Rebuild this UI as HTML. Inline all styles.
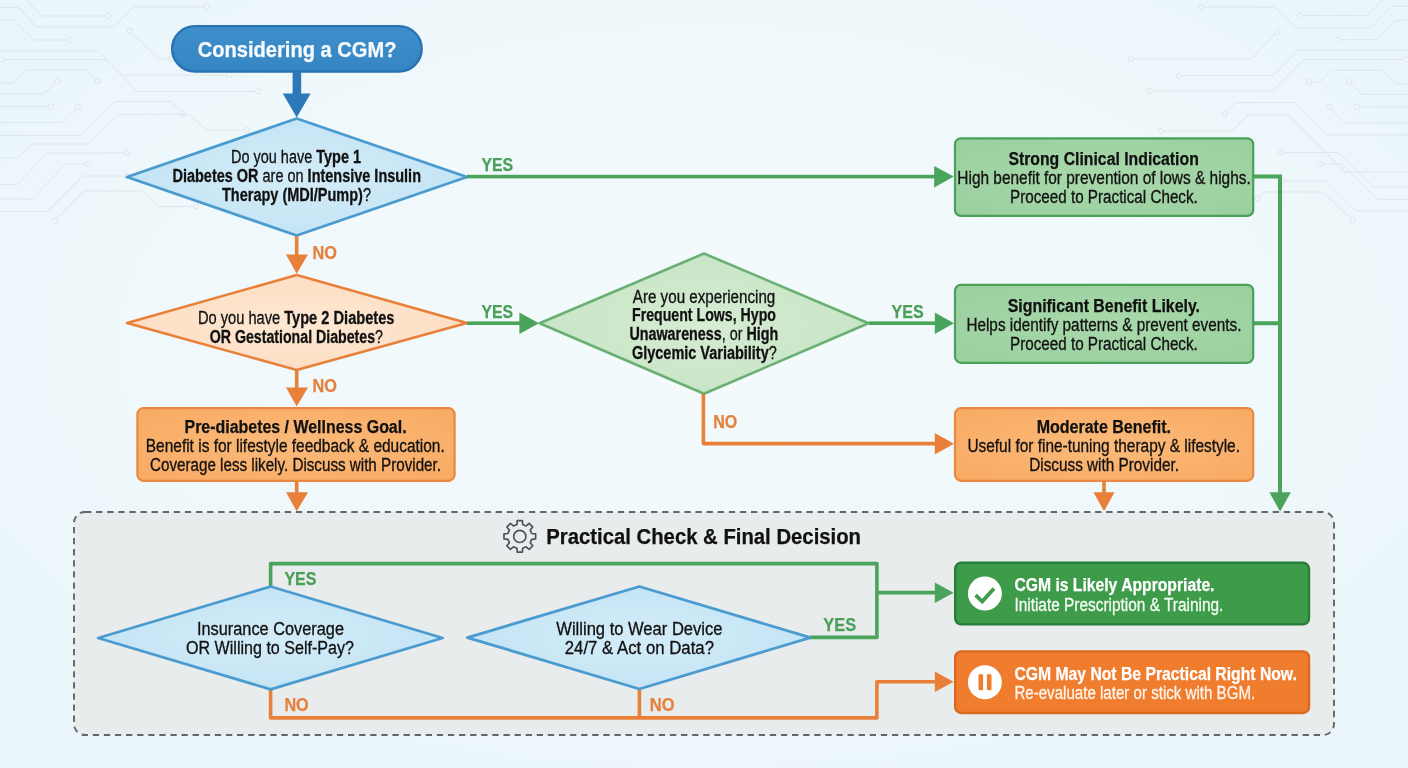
<!DOCTYPE html>
<html lang="en"><head><meta charset="utf-8"><title>Considering a CGM? Decision flowchart</title>
<style>
html,body{margin:0;padding:0;background:#eef6fa;}
body{width:1408px;height:768px;overflow:hidden;font-family:"Liberation Sans",sans-serif;}
svg{display:block;}
text{white-space:pre;}
</style></head><body>
<svg width="1408" height="768" viewBox="0 0 1408 768" font-family="'Liberation Sans', sans-serif">
<defs>
<radialGradient id="bg" cx="50%" cy="45%" r="75%"><stop offset="0" stop-color="#f4fafc"/><stop offset="0.55" stop-color="#eff8fb"/><stop offset="1" stop-color="#e8f5fa"/></radialGradient>
<radialGradient id="gb" cx="50%" cy="50%" r="60%"><stop offset="0" stop-color="#d4ecf8"/><stop offset="1" stop-color="#c1e3f4"/></radialGradient>
<radialGradient id="go" cx="50%" cy="50%" r="60%"><stop offset="0" stop-color="#fee8d4"/><stop offset="1" stop-color="#fcdcc0"/></radialGradient>
<radialGradient id="gg" cx="50%" cy="50%" r="60%"><stop offset="0" stop-color="#d6ecd3"/><stop offset="1" stop-color="#c6e3c3"/></radialGradient>
<linearGradient id="gp" x1="0" y1="0" x2="0" y2="1"><stop offset="0" stop-color="#3f8fcc"/><stop offset="1" stop-color="#3685c3"/></linearGradient>
<radialGradient id="bo" cx="50%" cy="50%" r="70%"><stop offset="0" stop-color="#fbba7a"/><stop offset="1" stop-color="#f8aa62"/></radialGradient>
<radialGradient id="bgn" cx="50%" cy="50%" r="70%"><stop offset="0" stop-color="#a8d9ab"/><stop offset="1" stop-color="#9acf9e"/></radialGradient>
</defs>
<rect width="1408" height="768" fill="url(#bg)"/>
<g fill="none" stroke="#dde6ea" stroke-width="1">
<path d="M27 0 L42 16 L108 16"/>
<circle cx="108" cy="16" r="2.6" fill="#eff7fb"/>
<path d="M0 7.5 L18.6 7.5 L37 27 L113 27 L134 6.8 L206.5 6.8"/>
<circle cx="206.5" cy="6.8" r="2.6" fill="#eff7fb"/>
<path d="M0 20 L13.5 20 L34 40 L69.4 40"/>
<circle cx="69.4" cy="40" r="2.6" fill="#eff7fb"/>
<path d="M130 31 L159 59 L171 59"/>
<circle cx="130" cy="31" r="2.6" fill="#eff7fb"/>
<circle cx="171" cy="59" r="2.6" fill="#eff7fb"/>
<path d="M0 51 L98 51 L122 75 L229.5 75"/>
<circle cx="229.5" cy="75" r="2.6" fill="#eff7fb"/>
<path d="M1.7 59.6 L106.6 59.6 L137 91.4 L258 91.4"/>
<circle cx="1.7" cy="59.6" r="2.6" fill="#eff7fb"/>
<circle cx="258" cy="91.4" r="2.6" fill="#eff7fb"/>
<path d="M0 83 L13.5 83 L27 70 L86 70 L98 81"/>
<circle cx="98" cy="81" r="2.6" fill="#eff7fb"/>
<path d="M0 94 L44 94 L57.5 81"/>
<circle cx="57.5" cy="81" r="2.6" fill="#eff7fb"/>
<path d="M0 106.6 L50.8 106.6"/>
<circle cx="50.8" cy="106.6" r="2.6" fill="#eff7fb"/>
<path d="M0 122.5 L62.6 122.5 L77.8 107"/>
<circle cx="77.8" cy="107" r="2.6" fill="#eff7fb"/>
<path d="M0 135.4 L81 135.4 L115 101.5 L171 101.5 L183 113.4"/>
<circle cx="183" cy="113.4" r="2.6" fill="#eff7fb"/>
<path d="M0 158 L17 158 L32 144 L88 144 L118.5 114.4 L189.5 114.4 L206.5 130 L247 130"/>
<circle cx="247" cy="130" r="2.6" fill="#eff7fb"/>
<path d="M0 184.5 L17 184.5 L47.4 153 L127 153"/>
<circle cx="127" cy="153" r="2.6" fill="#eff7fb"/>
<path d="M0 199 L32 199 L66 164 L88 164"/>
<circle cx="88" cy="164" r="2.6" fill="#eff7fb"/>
<path d="M0 211.5 L47.4 211.5 L83 176 L127 176"/>
<circle cx="127" cy="176" r="2.6" fill="#eff7fb"/>
<path d="M54.8 220.7 L84 191 L142 191 L159 206.5 L196 206.5"/>
<circle cx="54.8" cy="220.7" r="2.6" fill="#eff7fb"/>
<circle cx="196" cy="206.5" r="2.6" fill="#eff7fb"/>
<path d="M1201 7 L1274.6 7 L1296.4 28 L1370 28 L1391.8 6.3 L1408 6.3"/>
<circle cx="1201" cy="7" r="2.6" fill="#eff7fb"/>
<path d="M1299.6 15.6 L1366.8 15.6 L1382.4 0"/>
<circle cx="1299.6" cy="15.6" r="2.6" fill="#eff7fb"/>
<path d="M1277 32 L1251 58.8 L1130.8 58.8"/>
<circle cx="1277" cy="32" r="2.6" fill="#eff7fb"/>
<circle cx="1130.8" cy="58.8" r="2.6" fill="#eff7fb"/>
<path d="M1338 39.7 L1376 39.7 L1395 20.3 L1408 20.3"/>
<circle cx="1338" cy="39.7" r="2.6" fill="#eff7fb"/>
<path d="M1179 75.6 L1273 75.6 L1298 50 L1408 50"/>
<circle cx="1179" cy="75.6" r="2.6" fill="#eff7fb"/>
<path d="M1149.6 91 L1273 91 L1304 59.4 L1406 59.4"/>
<circle cx="1149.6" cy="91" r="2.6" fill="#eff7fb"/>
<circle cx="1406" cy="59.4" r="2.6" fill="#eff7fb"/>
<path d="M1309 82 L1320 82 L1331 70.3 L1382 70.3 L1395 83.8 L1408 83.8"/>
<circle cx="1309" cy="82" r="2.6" fill="#eff7fb"/>
<path d="M1349.6 82 L1362 94.4 L1408 94.4"/>
<circle cx="1349.6" cy="82" r="2.6" fill="#eff7fb"/>
<path d="M1224.6 113.8 L1235.5 102.5 L1295 102.5 L1326 135 L1408 135"/>
<circle cx="1224.6" cy="113.8" r="2.6" fill="#eff7fb"/>
<path d="M1329 107 L1345 122.8 L1408 122.8"/>
<circle cx="1329" cy="107" r="2.6" fill="#eff7fb"/>
<path d="M1356.8 107 L1408 107"/>
<circle cx="1356.8" cy="107" r="2.6" fill="#eff7fb"/>
<path d="M1161 131 L1232 131 L1248 115 L1288.6 115 L1345 172 L1408 172"/>
<circle cx="1161" cy="131" r="2.6" fill="#eff7fb"/>
<path d="M1280.8 152.5 L1338.6 152.5 L1373 187 L1408 187"/>
<circle cx="1280.8" cy="152.5" r="2.6" fill="#eff7fb"/>
<path d="M1320 164 L1342 164 L1377.7 199.4 L1408 199.4"/>
<circle cx="1320" cy="164" r="2.6" fill="#eff7fb"/>
<path d="M1282.4 181 L1326 181 L1356 211 L1408 211"/>
<circle cx="1282.4" cy="181" r="2.6" fill="#eff7fb"/>
<path d="M1257.4 198.4 L1263.6 192 L1323 192 L1352.7 220.3"/>
<circle cx="1257.4" cy="198.4" r="2.6" fill="#eff7fb"/>
<circle cx="1352.7" cy="220.3" r="2.6" fill="#eff7fb"/>
</g>
<rect x="74" y="512" width="1260" height="223" rx="11" fill="#e9eced" stroke="#5f676c" stroke-width="1.9" stroke-dasharray="6.3 4.8"/>
<rect x="172.1" y="26.1" width="249.6" height="45.5" rx="22.75" fill="url(#gp)" stroke="#2973b3" stroke-width="2.4"/>
<text x="197.8" y="56.7" font-size="22" font-weight="700" fill="#f6fafd" stroke="#f6fafd" stroke-width="0.25" textLength="198.6" lengthAdjust="spacingAndGlyphs">Considering a CGM?</text>
<rect x="292.6" y="72" width="8.6" height="23" fill="#2c78b8"/>
<polygon points="282.8,93.5 310.6,93.5 296.7,117.5" fill="#2c78b8"/>
<polygon points="296.7,118.5 467,177 296.7,235.5 127,177" fill="url(#gb)" stroke="#4a9bcf" stroke-width="2.8" stroke-linejoin="round"/>
<text x="231" y="163" font-size="17.6" font-weight="400" fill="#111" stroke="#111" stroke-width="0.3" textLength="130" lengthAdjust="spacingAndGlyphs">Do you have <tspan font-weight="700">Type 1</tspan></text>
<text x="172.5" y="182" font-size="17.6" font-weight="400" fill="#111" stroke="#111" stroke-width="0.3" textLength="248.5" lengthAdjust="spacingAndGlyphs"><tspan font-weight="700">Diabetes OR</tspan> are on <tspan font-weight="700">Intensive Insulin</tspan></text>
<text x="222" y="201" font-size="17.6" font-weight="400" fill="#111" stroke="#111" stroke-width="0.3" textLength="149" lengthAdjust="spacingAndGlyphs"><tspan font-weight="700">Therapy (MDI/Pump)</tspan>?</text>
<rect x="294.9" y="236" width="3.6" height="20" fill="#e9803a"/>
<polygon points="286,254.5 308,254.5 296.7,273.8" fill="#e9803a"/>
<text x="312.6" y="259.3" font-size="17.6" font-weight="700" fill="#e5813b" stroke="#e5813b" stroke-width="0.25" textLength="24.4" lengthAdjust="spacingAndGlyphs">NO</text>
<polygon points="296.7,275 467,323 296.7,370 127,323" fill="url(#go)" stroke="#e9803a" stroke-width="2.6" stroke-linejoin="round"/>
<text x="198" y="324" font-size="17.6" font-weight="400" fill="#111" stroke="#111" stroke-width="0.3" textLength="196.5" lengthAdjust="spacingAndGlyphs">Do you have <tspan font-weight="700">Type 2 Diabetes</tspan></text>
<text x="209.7" y="343" font-size="17.6" font-weight="400" fill="#111" stroke="#111" stroke-width="0.3" textLength="173.3" lengthAdjust="spacingAndGlyphs"><tspan font-weight="700">OR Gestational Diabetes</tspan>?</text>
<rect x="294.9" y="370" width="3.6" height="20" fill="#e9803a"/>
<polygon points="286,387.5 308,387.5 296.7,406.5" fill="#e9803a"/>
<text x="312.6" y="392.4" font-size="17.6" font-weight="700" fill="#e5813b" stroke="#e5813b" stroke-width="0.25" textLength="24.4" lengthAdjust="spacingAndGlyphs">NO</text>
<rect x="137.4" y="408.2" width="317.2" height="72.6" rx="6" fill="url(#bo)" stroke="#ea8843" stroke-width="2.2"/>
<text x="184.5" y="433" font-size="18" font-weight="700" fill="#111" stroke="#111" stroke-width="0.25" textLength="222.1" lengthAdjust="spacingAndGlyphs">Pre-diabetes / Wellness Goal.</text>
<text x="145.8" y="452" font-size="17.6" font-weight="400" fill="#111" stroke="#111" stroke-width="0.3" textLength="298.9" lengthAdjust="spacingAndGlyphs">Benefit is for lifestyle feedback &amp; education.</text>
<text x="150" y="470.5" font-size="17.6" font-weight="400" fill="#111" stroke="#111" stroke-width="0.3" textLength="291" lengthAdjust="spacingAndGlyphs">Coverage less likely. Discuss with Provider.</text>
<rect x="294.9" y="481" width="3.6" height="13" fill="#e9803a"/>
<polygon points="286,492.3 308,492.3 296.7,511.3" fill="#e9803a"/>
<rect x="467" y="174.8" width="470" height="3.6" fill="#4ba45b"/>
<polygon points="934.2,166 934.2,187.4 953.8,176.6" fill="#4ba45b"/>
<text x="481.4" y="170.6" font-size="18.6" font-weight="700" fill="#4c9f59" stroke="#4c9f59" stroke-width="0.25" textLength="31.7" lengthAdjust="spacingAndGlyphs">YES</text>
<rect x="467" y="321.4" width="55" height="3.6" fill="#4ba45b"/>
<polygon points="519.4,312.4 519.4,334 539,323.2" fill="#4ba45b"/>
<text x="481.4" y="317.5" font-size="18.6" font-weight="700" fill="#4c9f59" stroke="#4c9f59" stroke-width="0.25" textLength="31.7" lengthAdjust="spacingAndGlyphs">YES</text>
<polygon points="704,253.5 868.5,323.2 704,393.8 539.6,323.2" fill="url(#gg)" stroke="#69b072" stroke-width="2.6" stroke-linejoin="round"/>
<text x="632.8" y="302.7" font-size="17.6" font-weight="400" fill="#111" stroke="#111" stroke-width="0.3" textLength="142.5" lengthAdjust="spacingAndGlyphs">Are you experiencing</text>
<text x="632" y="321.2" font-size="17.6" font-weight="700" fill="#111" stroke="#111" stroke-width="0.25" textLength="144" lengthAdjust="spacingAndGlyphs">Frequent Lows, Hypo</text>
<text x="629.4" y="340" font-size="17.6" font-weight="400" fill="#111" stroke="#111" stroke-width="0.3" textLength="148.9" lengthAdjust="spacingAndGlyphs"><tspan font-weight="700">Unawareness</tspan>, or <tspan font-weight="700">High</tspan></text>
<text x="632" y="358.5" font-size="17.6" font-weight="400" fill="#111" stroke="#111" stroke-width="0.3" textLength="144.8" lengthAdjust="spacingAndGlyphs"><tspan font-weight="700">Glycemic Variability</tspan>?</text>
<rect x="869" y="321.4" width="68" height="3.6" fill="#4ba45b"/>
<polygon points="934.8,312.4 934.8,334 954,323.2" fill="#4ba45b"/>
<text x="891.6" y="317.5" font-size="18.6" font-weight="700" fill="#4c9f59" stroke="#4c9f59" stroke-width="0.25" textLength="32.2" lengthAdjust="spacingAndGlyphs">YES</text>
<path d="M703.4 394 V443.6 H937" fill="none" stroke="#e9803a" stroke-width="3.6" stroke-linejoin="round"/>
<polygon points="934.8,433 934.8,454.6 954,443.8" fill="#e9803a"/>
<text x="713.3" y="427.6" font-size="17.6" font-weight="700" fill="#e5813b" stroke="#e5813b" stroke-width="0.25" textLength="24.0" lengthAdjust="spacingAndGlyphs">NO</text>
<rect x="955" y="138.3" width="298.2" height="77.6" rx="6" fill="url(#bgn)" stroke="#4a9f59" stroke-width="2.2"/>
<text x="1008.4" y="165.3" font-size="18" font-weight="700" fill="#111" stroke="#111" stroke-width="0.25" textLength="190.4" lengthAdjust="spacingAndGlyphs">Strong Clinical Indication</text>
<text x="957.3" y="184.2" font-size="17.6" font-weight="400" fill="#111" stroke="#111" stroke-width="0.3" textLength="293.5" lengthAdjust="spacingAndGlyphs">High benefit for prevention of lows &amp; highs.</text>
<text x="1010" y="203" font-size="17.6" font-weight="400" fill="#111" stroke="#111" stroke-width="0.3" textLength="187.8" lengthAdjust="spacingAndGlyphs">Proceed to Practical Check.</text>
<rect x="955" y="284.8" width="298.2" height="78" rx="6" fill="url(#bgn)" stroke="#4a9f59" stroke-width="2.2"/>
<text x="1007.7" y="311.8" font-size="18" font-weight="700" fill="#111" stroke="#111" stroke-width="0.25" textLength="192.3" lengthAdjust="spacingAndGlyphs">Significant Benefit Likely.</text>
<text x="966.4" y="330.7" font-size="17.6" font-weight="400" fill="#111" stroke="#111" stroke-width="0.3" textLength="275.0" lengthAdjust="spacingAndGlyphs">Helps identify patterns &amp; prevent events.</text>
<text x="1010" y="349.5" font-size="17.6" font-weight="400" fill="#111" stroke="#111" stroke-width="0.3" textLength="187.8" lengthAdjust="spacingAndGlyphs">Proceed to Practical Check.</text>
<rect x="955" y="408.2" width="298.2" height="72.6" rx="6" fill="url(#bo)" stroke="#ea8843" stroke-width="2.2"/>
<text x="1036.7" y="432.7" font-size="18" font-weight="700" fill="#111" stroke="#111" stroke-width="0.25" textLength="134.3" lengthAdjust="spacingAndGlyphs">Moderate Benefit.</text>
<text x="967.4" y="452.3" font-size="17.6" font-weight="400" fill="#111" stroke="#111" stroke-width="0.3" textLength="272.6" lengthAdjust="spacingAndGlyphs">Useful for fine-tuning therapy &amp; lifestyle.</text>
<text x="1029.2" y="470.8" font-size="17.6" font-weight="400" fill="#111" stroke="#111" stroke-width="0.3" textLength="149.8" lengthAdjust="spacingAndGlyphs">Discuss with Provider.</text>
<rect x="1102.2" y="481" width="3.6" height="13" fill="#e9803a"/>
<polygon points="1093.4,492.3 1114.6,492.3 1104,511.3" fill="#e9803a"/>
<path d="M1254 176.6 H1280 V494 M1254 323.2 H1280" fill="none" stroke="#4ba45b" stroke-width="4" stroke-linejoin="miter"/>
<polygon points="1269.4,492.3 1290.8,492.3 1280.1,511.6" fill="#4ba45b"/>
<path d="M531.65 533.50 L535.60 533.85 L535.60 538.95 L531.65 539.30 L530.23 542.73 L532.77 545.77 L529.17 549.37 L526.13 546.83 L522.70 548.25 L522.35 552.20 L517.25 552.20 L516.90 548.25 L513.47 546.83 L510.43 549.37 L506.83 545.77 L509.37 542.73 L507.95 539.30 L504.00 538.95 L504.00 533.85 L507.95 533.50 L509.37 530.07 L506.83 527.03 L510.43 523.43 L513.47 525.97 L516.90 524.55 L517.25 520.60 L522.35 520.60 L522.70 524.55 L526.13 525.97 L529.17 523.43 L532.77 527.03 L530.23 530.07Z" fill="none" stroke="#4c5256" stroke-width="1.7" stroke-linejoin="round"/>
<circle cx="519.8" cy="536.4" r="6.1" fill="none" stroke="#4c5256" stroke-width="1.7"/>
<text x="546.3" y="544.3" font-size="22" font-weight="700" fill="#111" stroke="#111" stroke-width="0.25" textLength="314.7" lengthAdjust="spacingAndGlyphs">Practical Check &amp; Final Decision</text>
<path d="M270.6 587 V563.6 H876.9 V637.4 H810" fill="none" stroke="#4ba45b" stroke-width="3.6" stroke-linejoin="round"/>
<path d="M876.9 592.6 H937" fill="none" stroke="#4ba45b" stroke-width="3.6"/>
<polygon points="934.8,582.6 934.8,603 953.6,592.8" fill="#4ba45b"/>
<path d="M270.6 689 V717.9 H876.9 V681.8 H937" fill="none" stroke="#e9803a" stroke-width="3.6" stroke-linejoin="round"/>
<path d="M639.4 689 V717.9" fill="none" stroke="#e9803a" stroke-width="3.6"/>
<polygon points="934.8,671.6 934.8,692 953.6,681.8" fill="#e9803a"/>
<polygon points="270.6,586.5 442.6,638 270.6,689.3 98.2,638" fill="url(#gb)" stroke="#4a9bcf" stroke-width="2.8" stroke-linejoin="round"/>
<text x="197" y="634.7" font-size="18" font-weight="400" fill="#111" stroke="#111" stroke-width="0.3" textLength="147" lengthAdjust="spacingAndGlyphs">Insurance Coverage</text>
<text x="186" y="654" font-size="18" font-weight="400" fill="#111" stroke="#111" stroke-width="0.3" textLength="168" lengthAdjust="spacingAndGlyphs">OR Willing to Self-Pay?</text>
<text x="284.4" y="584.6" font-size="18.6" font-weight="700" fill="#4c9f59" stroke="#4c9f59" stroke-width="0.25" textLength="32.0" lengthAdjust="spacingAndGlyphs">YES</text>
<text x="284.4" y="711" font-size="17.6" font-weight="700" fill="#e5813b" stroke="#e5813b" stroke-width="0.25" textLength="24.3" lengthAdjust="spacingAndGlyphs">NO</text>
<polygon points="639.4,586.5 810.4,637.6 639.4,689 467.4,637.6" fill="url(#gb)" stroke="#4a9bcf" stroke-width="2.8" stroke-linejoin="round"/>
<text x="556.3" y="634.7" font-size="18" font-weight="400" fill="#111" stroke="#111" stroke-width="0.3" textLength="166.2" lengthAdjust="spacingAndGlyphs">Willing to Wear Device</text>
<text x="564.8" y="654" font-size="18" font-weight="400" fill="#111" stroke="#111" stroke-width="0.3" textLength="149.2" lengthAdjust="spacingAndGlyphs">24/7 &amp; Act on Data?</text>
<text x="823.3" y="631" font-size="18.6" font-weight="700" fill="#4c9f59" stroke="#4c9f59" stroke-width="0.25" textLength="32.9" lengthAdjust="spacingAndGlyphs">YES</text>
<text x="649.7" y="711.2" font-size="17.6" font-weight="700" fill="#e5813b" stroke="#e5813b" stroke-width="0.25" textLength="24.8" lengthAdjust="spacingAndGlyphs">NO</text>
<rect x="955.2" y="562.8" width="353.8" height="61.6" rx="6" fill="#3d9b4a" stroke="#257f37" stroke-width="2.4"/>
<circle cx="984.9" cy="593.5" r="17" fill="#fff"/>
<path d="M975.6 595.2 L982.2 601.5 L994 588.4" fill="none" stroke="#3e9c4b" stroke-width="3.8"/>
<text x="1014.4" y="591" font-size="18" font-weight="700" fill="#fff" stroke="#fff" stroke-width="0.25" textLength="200.1" lengthAdjust="spacingAndGlyphs">CGM is Likely Appropriate.</text>
<text x="1014.4" y="610.6" font-size="17.6" font-weight="400" fill="#f4fbf4" stroke="#f4fbf4" stroke-width="0.3" textLength="208.9" lengthAdjust="spacingAndGlyphs">Initiate Prescription &amp; Training.</text>
<rect x="955.2" y="651.4" width="353.8" height="61.6" rx="6" fill="#f07c2e" stroke="#d9691f" stroke-width="2.4"/>
<circle cx="984.9" cy="682.2" r="17" fill="#fff"/>
<rect x="978.5" y="674.2" width="4.6" height="16" rx="1" fill="#f07c2e"/><rect x="986.9" y="674.2" width="4.6" height="16" rx="1" fill="#f07c2e"/>
<text x="1014.4" y="679.6" font-size="18" font-weight="700" fill="#fff" stroke="#fff" stroke-width="0.25" textLength="282.5" lengthAdjust="spacingAndGlyphs">CGM May Not Be Practical Right Now.</text>
<text x="1014.4" y="698.5" font-size="17.6" font-weight="400" fill="#fff4ea" stroke="#fff4ea" stroke-width="0.3" textLength="240.8" lengthAdjust="spacingAndGlyphs">Re-evaluate later or stick with BGM.</text>
</svg>
</body></html>
